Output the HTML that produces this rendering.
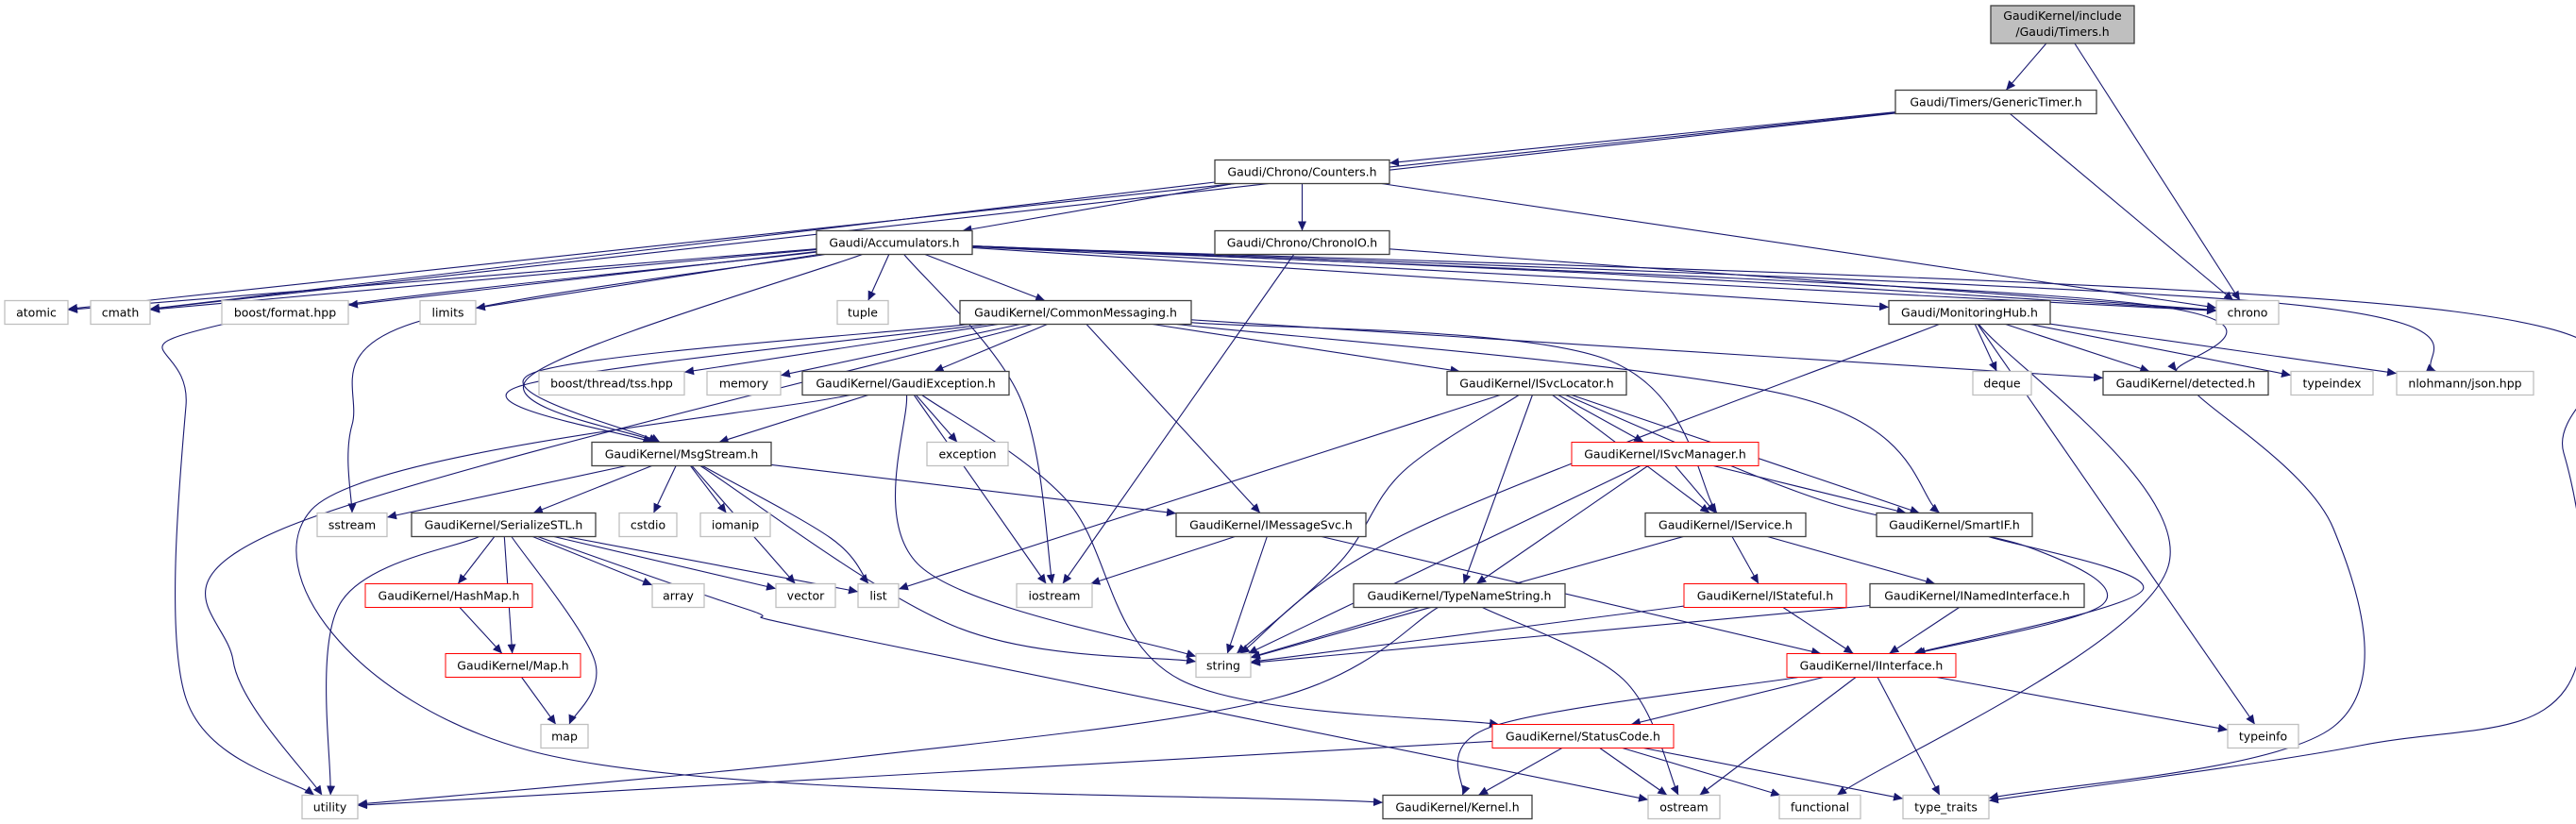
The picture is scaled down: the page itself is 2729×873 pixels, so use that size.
<!DOCTYPE html>
<html><head><meta charset="utf-8">
<style>
html,body{margin:0;padding:0;background:#fff;}
svg{display:block;}
text{font-family:"DejaVu Sans","Liberation Sans",sans-serif;font-size:12.5px;fill:#000;text-anchor:middle;}
</style></head>
<body>
<svg id="g" width="2729" height="873" viewBox="0 0 2729 873" xmlns="http://www.w3.org/2000/svg">
<defs><marker id="a" markerWidth="11" markerHeight="9" refX="10" refY="4.5" orient="auto" markerUnits="userSpaceOnUse"><path d="M0,0 L10,4.5 L0,9 z" fill="#191970"/></marker></defs>
<g id="edges"></g>
<g id="boxes"></g>
<g id="labels">
<text x="2185" y="21">GaudiKernel/include</text>
<text x="2185" y="38">/Gaudi/Timers.h</text>
<text x="2114.5" y="112.5">Gaudi/Timers/GenericTimer.h</text>
<text x="1379.5" y="186.5">Gaudi/Chrono/Counters.h</text>
<text x="947.5" y="261.5">Gaudi/Accumulators.h</text>
<text x="1379.5" y="261.5">Gaudi/Chrono/ChronoIO.h</text>
<text x="38.5" y="335.5">atomic</text>
<text x="127.5" y="335.5">cmath</text>
<text x="302" y="335.5">boost/format.hpp</text>
<text x="474.5" y="335.5">limits</text>
<text x="914" y="335.5">tuple</text>
<text x="1139.5" y="335.5">GaudiKernel/CommonMessaging.h</text>
<text x="2086.5" y="335.5">Gaudi/MonitoringHub.h</text>
<text x="2381" y="335.5">chrono</text>
<text x="648" y="410.5">boost/thread/tss.hpp</text>
<text x="788" y="410.5">memory</text>
<text x="959.5" y="410.5">GaudiKernel/GaudiException.h</text>
<text x="1628" y="410.5">GaudiKernel/ISvcLocator.h</text>
<text x="2121" y="410.5">deque</text>
<text x="2315.5" y="410.5">GaudiKernel/detected.h</text>
<text x="2470.5" y="410.5">typeindex</text>
<text x="2611.5" y="410.5">nlohmann/json.hpp</text>
<text x="722" y="485.5">GaudiKernel/MsgStream.h</text>
<text x="1025" y="485.5">exception</text>
<text x="1764" y="485.5">GaudiKernel/ISvcManager.h</text>
<text x="373" y="560.5">sstream</text>
<text x="533.5" y="560.5">GaudiKernel/SerializeSTL.h</text>
<text x="686.5" y="560.5">cstdio</text>
<text x="779" y="560.5">iomanip</text>
<text x="1346.5" y="560.5">GaudiKernel/IMessageSvc.h</text>
<text x="1828" y="560.5">GaudiKernel/IService.h</text>
<text x="2070.5" y="560.5">GaudiKernel/SmartIF.h</text>
<text x="475.5" y="635.5">GaudiKernel/HashMap.h</text>
<text x="718.5" y="635.5">array</text>
<text x="853.5" y="635.5">vector</text>
<text x="930.5" y="635.5">list</text>
<text x="1117" y="635.5">iostream</text>
<text x="1546" y="635.5">GaudiKernel/TypeNameString.h</text>
<text x="1870" y="635.5">GaudiKernel/IStateful.h</text>
<text x="2094.5" y="635.5">GaudiKernel/INamedInterface.h</text>
<text x="543.5" y="709.5">GaudiKernel/Map.h</text>
<text x="1296" y="709.5">string</text>
<text x="1982.5" y="709.5">GaudiKernel/IInterface.h</text>
<text x="598" y="784.5">map</text>
<text x="1677" y="784.5">GaudiKernel/StatusCode.h</text>
<text x="2397.5" y="784.5">typeinfo</text>
<text x="349.5" y="859.5">utility</text>
<text x="1544" y="859.5">GaudiKernel/Kernel.h</text>
<text x="1784" y="859.5">ostream</text>
<text x="1928" y="859.5">functional</text>
<text x="2061.5" y="859.5">type_traits</text>
</g>
</svg>
<script>
var R=[26,108,182,257,331,406,481,556,631,705,780,855];
var N={
T:[2109,2261,0,'t'],GT:[2008,2221,1,'b'],CT:[1287,1472,2,'b'],AC:[865,1030,3,'b'],CIO:[1287,1472,3,'b'],
atomic:[5,72,4,'g'],cmath:[96,159,4,'g'],bfmt:[235,369,4,'g'],limits:[445,504,4,'g'],tuple:[887,941,4,'g'],CM:[1017,1262,4,'b'],MH:[2001,2172,4,'b'],chrono:[2348,2414,4,'g'],
tss:[571,725,5,'g'],memory:[749,827,5,'g'],GE:[850,1069,5,'b'],ISL:[1533,1723,5,'b'],deque:[2090,2152,5,'g'],det:[2228,2403,5,'b'],typeindex:[2427,2514,5,'g'],json:[2539,2684,5,'g'],
MS:[627,817,6,'b'],exception:[982,1068,6,'g'],ISM:[1665,1863,6,'r'],
sstream:[336,410,7,'g'],SS:[436,631,7,'b'],cstdio:[656,717,7,'g'],iomanip:[742,816,7,'g'],IMS:[1246,1447,7,'b'],IS:[1743,1913,7,'b'],SIF:[1988,2153,7,'b'],
HM:[387,564,8,'r'],array:[691,746,8,'g'],vector:[822,885,8,'g'],list:[909,952,8,'g'],iostream:[1077,1157,8,'g'],TNS:[1434,1658,8,'b'],IST:[1784,1956,8,'r'],INI:[1981,2208,8,'b'],
MAP:[472,615,9,'r'],string:[1267,1325,9,'g'],II:[1893,2072,9,'r'],
map:[573,623,10,'g'],SC:[1581,1773,10,'r'],typeinfo:[2360,2435,10,'g'],
utility:[320,379,11,'g'],KH:[1465,1623,11,'b'],ostream:[1746,1822,11,'g'],functional:[1885,1971,11,'g'],tt:[2016,2107,11,'g']
};
function geo(id){var n=N[id];var cy=R[n[2]];var hh=(n[3]=='t')?20:12.5;if(n[3]=='t')cy=26;return {cx:(n[0]+n[1])/2,cy:cy,hw:(n[1]-n[0])/2,hh:hh};}
function clip(g,p){var dx=p[0]-g.cx,dy=p[1]-g.cy;if(dx==0&&dy==0)return [g.cx,g.cy];var t=Math.min(dx?g.hw/Math.abs(dx):1e9,dy?g.hh/Math.abs(dy):1e9);return [g.cx+dx*t,g.cy+dy*t];}
var E=[
['T','GT'],['T','chrono'],
['GT','CT'],['GT','chrono'],['GT','atomic'],['GT','cmath'],
['CT','AC'],['CT','CIO'],['CT','chrono'],['CT','cmath'],
['CIO','chrono'],['CIO','iostream'],
['AC','atomic'],['AC','cmath'],['AC','bfmt'],['AC','limits'],['AC','tuple'],['AC','CM'],['AC','MH'],['AC','chrono'],['AC','chrono',[[1700,290]]],['AC','det',[[2250,320]]],['AC','json',[[2400,320]]],
['AC','tt',[[2600,330],[2716,480],[2718,730],[2500,790]]],['AC','utility',[[230,345],[197,430],[197,740]]],['AC','sstream',[[430,345],[373,450]]],['AC','MS',[[560,400]]],['AC','iostream',[[1080,420]]],
['CM','tss'],['CM','memory'],['CM','GE'],['CM','MS',[[548,410]]],['CM','MS',[[565,395]]],['CM','utility',[[300,560],[247,700]]],
['CM','IMS'],['CM','ISL'],['CM','det'],['CM','SIF',[[1900,420]]],['CM','IS',[[1700,380]]],
['MH','deque'],['MH','det'],['MH','typeindex'],['MH','json'],['MH','typeinfo'],['MH','functional',[[2297,600]]],['MH','string',[[1500,560]]],
['det','tt',[[2472,560],[2472,770]]],
['GE','MS'],['GE','exception'],['GE','iostream'],['GE','string',[[975,600]]],['GE','SC',[[1130,530],[1250,720]]],['GE','KH',[[330,540],[560,795]]],
['MS','sstream'],['MS','SS'],['MS','cstdio'],['MS','iomanip'],['MS','vector'],['MS','string',[[1015,665]]],['MS','IMS'],['MS','list',[[880,570]]],
['SS','utility',[[360,640]]],['SS','HM'],['SS','MAP'],['SS','map',[[630,700]]],['SS','array'],['SS','vector'],['SS','list'],['SS','ostream',[[790,645],[900,675]]],
['HM','MAP'],['MAP','map'],
['ISL','list'],['ISL','string',[[1486,500],[1420,595]]],['ISL','TNS'],['ISL','ISM'],['ISL','IS'],['ISL','SIF'],['ISL','II',[[1930,530],[2150,580],[2228,640]]],
['ISM','string'],['ISM','TNS'],['ISM','IS'],['ISM','SIF'],
['IMS','iostream'],['IMS','string'],['IMS','II'],
['IS','string'],['IS','IST'],['IS','INI'],
['SIF','II',[[2270,625]]],
['IST','II'],['IST','string'],['INI','II'],['INI','string'],
['TNS','string'],['TNS','utility',[[1350,740],[900,803]]],['TNS','ostream',[[1720,720]]],
['II','KH',[[1580,770]]],['II','SC'],['II','ostream'],['II','tt'],['II','typeinfo'],
['SC','utility'],['SC','KH'],['SC','ostream'],['SC','functional'],['SC','tt']
];
var NS='http://www.w3.org/2000/svg';
var eg=document.getElementById('edges'),bg=document.getElementById('boxes');
E.forEach(function(e){
 var s=geo(e[0]),t=geo(e[1]),v=e[2]||[];
 var first=v.length?v[0]:[t.cx,t.cy],last=v.length?v[v.length-1]:[s.cx,s.cy];
 var pts=[clip(s,first)].concat(v).concat([clip(t,last)]);
 var d='M'+pts[0][0].toFixed(1)+','+pts[0][1].toFixed(1);
 if(pts.length==2){d+=' L'+pts[1][0].toFixed(1)+','+pts[1][1].toFixed(1);}
 else{for(var i=0;i<pts.length-1;i++){var p0=pts[Math.max(i-1,0)],p1=pts[i],p2=pts[i+1],p3=pts[Math.min(i+2,pts.length-1)];
  var c1=[p1[0]+(p2[0]-p0[0])/6,p1[1]+(p2[1]-p0[1])/6],c2=[p2[0]-(p3[0]-p1[0])/6,p2[1]-(p3[1]-p1[1])/6];
  d+=' C'+c1[0].toFixed(1)+','+c1[1].toFixed(1)+' '+c2[0].toFixed(1)+','+c2[1].toFixed(1)+' '+p2[0].toFixed(1)+','+p2[1].toFixed(1);}}
 var p=document.createElementNS(NS,'path');p.setAttribute('d',d);p.setAttribute('fill','none');p.setAttribute('stroke','#191970');p.setAttribute('stroke-width','1.1');p.setAttribute('marker-end','url(#a)');eg.appendChild(p);
});
for(var k in N){var g=geo(k),st=N[k][3];
 var r=document.createElementNS(NS,'rect');r.setAttribute('x',g.cx-g.hw);r.setAttribute('y',g.cy-g.hh);r.setAttribute('width',g.hw*2);r.setAttribute('height',g.hh*2);
 var fill='#fff',stroke='#000',sw='1';
 if(st=='g'){stroke='#bfbfbf';sw='1.3';} else if(st=='r'){stroke='#ff0000';} else if(st=='t'){fill='#bfbfbf';stroke='#404040';sw='1.3';} else {stroke='#404040';sw='1.3';}
 r.setAttribute('fill',fill);r.setAttribute('stroke',stroke);r.setAttribute('stroke-width',sw);bg.appendChild(r);}
</script>
</body></html>
